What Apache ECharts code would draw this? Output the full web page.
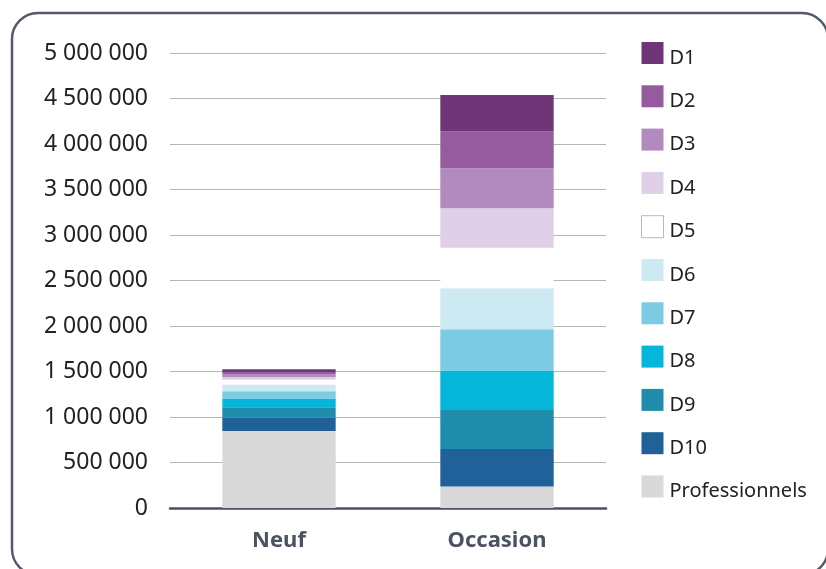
<!DOCTYPE html>
<html>
<head>
<meta charset="utf-8">
<script src="https://cdn.jsdelivr.net/npm/echarts@6/dist/echarts.min.js"></script>
<style>
  html, body { margin: 0; padding: 0; background: #ffffff; }
  #chart { width: 826px; height: 569px; }
</style>
</head>
<body>
<div id="chart"></div>
<script>
// Vehicle categories on the x axis
const categories = ['Neuf', 'Occasion'];

// Stacked segments, bottom to top
const professionnels = [845000, 235000];
const d10 = [147000, 414000];
const d9  = [116000, 429000];
const d8  = [96000, 432000];
const d7  = [80000, 455000];
const d6  = [72000, 450000];
const d5  = [52000, 446000];
const d4  = [30000, 433000];
const d3  = [28000, 440000];
const d2  = [28000, 402000];
const d1  = [30000, 403000];

const yMin = 0;
const yMax = 5000000;
const yStep = 500000;

const stackSeries = [
  { name: 'Professionnels', data: professionnels, color: '#d9d9d9' },
  { name: 'D10', data: d10, color: '#1f6198' },
  { name: 'D9',  data: d9,  color: '#1f8dab' },
  { name: 'D8',  data: d8,  color: '#05b5da' },
  { name: 'D7',  data: d7,  color: '#7ccbe4' },
  { name: 'D6',  data: d6,  color: '#cde9f1' },
  { name: 'D5',  data: d5,  color: '#ffffff' },
  { name: 'D4',  data: d4,  color: '#dfd0e8' },
  { name: 'D3',  data: d3,  color: '#b28abd' },
  { name: 'D2',  data: d2,  color: '#965a9f' },
  { name: 'D1',  data: d1,  color: '#6f3577' }
];

const legendOrder = ['D1', 'D2', 'D3', 'D4', 'D5', 'D6', 'D7', 'D8', 'D9', 'D10', 'Professionnels'];

function spaced(v) {
  return String(v).replace(/\B(?=(\d{3})+(?!\d))/g, ' ');
}

const chart = echarts.init(document.getElementById('chart'), null, { renderer: 'canvas' });

chart.setOption({
  animation: false,
  backgroundColor: '#ffffff',
  textStyle: { fontFamily: 'Noto Sans' },
  graphic: [{
    type: 'rect',
    shape: { x: 12, y: 13, width: 816, height: 562, r: 26 },
    style: { fill: 'none', stroke: '#535b6b', lineWidth: 2.5 },
    silent: true,
    z: 0
  }],
  grid: { left: 170, right: 220, top: 53, bottom: 61 },
  legend: {
    orient: 'vertical',
    left: 641,
    top: 42,
    padding: 0,
    itemWidth: 22,
    itemHeight: 22,
    itemGap: 17.3,
    icon: 'rect',
    selectedMode: false,
    formatter: '{t|{name}}',
    textStyle: {
      fontSize: 20, color: '#222222', fontFamily: 'Noto Sans',
      rich: { t: { fontSize: 20, color: '#222222', fontFamily: 'Noto Sans', padding: [10, 0, 0, 1] } }
    },
    data: legendOrder.map(n => n === 'D5'
      ? { name: n, itemStyle: { color: '#ffffff', borderColor: '#b4b7c2', borderWidth: 1 } }
      : { name: n })
  },
  xAxis: {
    type: 'category',
    data: categories,
    axisTick: { show: false },
    axisLine: { lineStyle: { color: '#4b5262', width: 2.5 } },
    axisLabel: { fontSize: 22, fontWeight: 'bold', color: '#4b5262', margin: 22, fontFamily: 'Noto Sans' }
  },
  yAxis: {
    type: 'value',
    min: yMin,
    max: yMax,
    interval: yStep,
    axisLine: { show: false },
    axisTick: { show: false },
    splitLine: { lineStyle: { color: '#b5b5b5', width: 1 } },
    axisLabel: { fontSize: 23, color: '#222222', margin: 22, formatter: v => spaced(v), fontFamily: 'Noto Sans' }
  },
  series: stackSeries.map(s => ({
    name: s.name,
    type: 'bar',
    stack: 'total',
    barWidth: '52%',
    data: s.data,
    itemStyle: { color: s.color },
    emphasis: { disabled: true }
  }))
});
</script>
</body>
</html>
